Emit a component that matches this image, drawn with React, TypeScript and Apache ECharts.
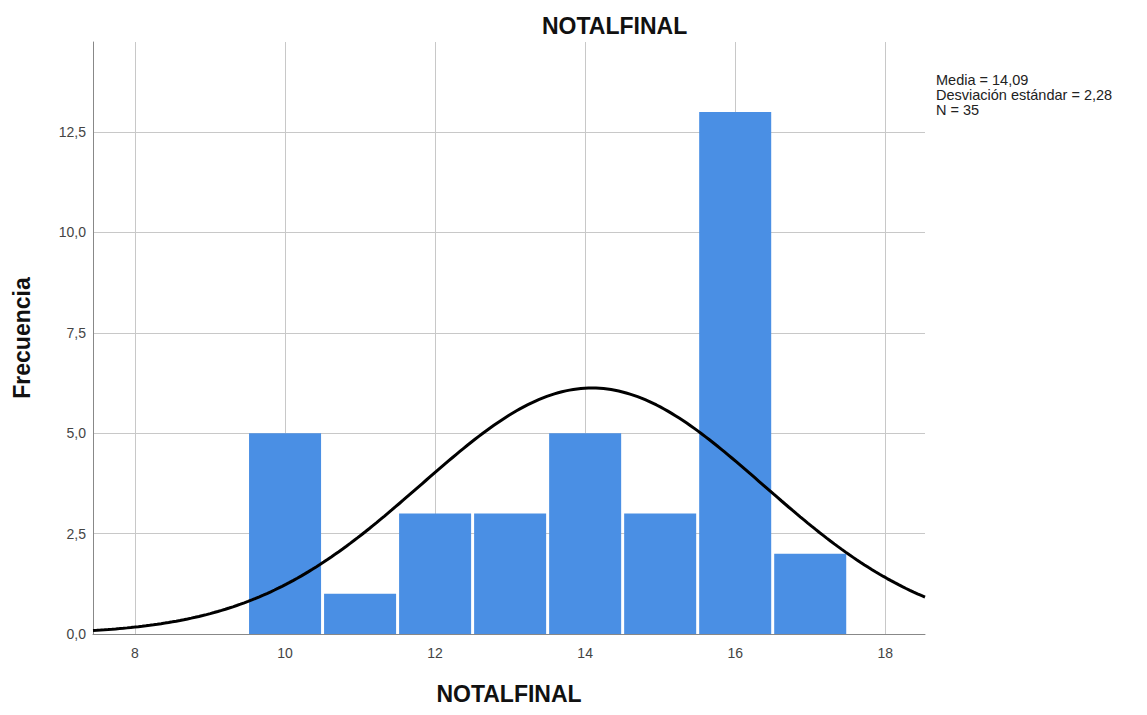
import React, { useEffect, useRef } from "react";
import * as echarts from "echarts";

// Histogram bins (bin centre, frequency)
const binCenters = [10, 11, 12, 13, 14, 15, 16, 17];
const frequencies = [5, 1, 3, 3, 5, 3, 13, 2];
const binWidth = 1;

// Summary statistics shown on the chart
const meanValue = 14.09;
const stdDev = 2.28;
const nCount = 35;

// Axis ticks
const xTicks = [8, 10, 12, 14, 16, 18];
const yTicks = [0, 2.5, 5, 7.5, 10, 12.5];
const xMin = 7.44;
const xMax = 18.53;
const yMax = 14.74;

const statsLines = [
  "Media = 14,09",
  "Desviación estándar = 2,28",
  "N = 35",
];

export default function App() {
  const ref = useRef<HTMLDivElement>(null);
  useEffect(() => {
    if (!ref.current) return;
    const chart = echarts.init(ref.current, null, { renderer: "svg" });

    // Fitted normal curve from the chart's mean, SD and N
    const curve: number[][] = [];
    const steps = 220;
    for (let i = 0; i <= steps; i++) {
      const x = xMin + ((xMax - xMin) * i) / steps;
      const z = (x - meanValue) / stdDev;
      const y =
        (nCount * binWidth * Math.exp(-0.5 * z * z)) /
        (stdDev * Math.sqrt(2 * Math.PI));
      curve.push([x, y]);
    }

    const barData = binCenters.map((c, i) => [c, frequencies[i]]);
    const fmt = (v: number) => v.toFixed(1).replace(".", ",");

    chart.setOption({
      animation: false,
      backgroundColor: "#ffffff",
      title: {
        text: "NOTALFINAL",
        left: 537,
        top: 9,
        textStyle: {
          fontFamily: "Liberation Sans",
          fontWeight: "bold",
          fontSize: 23,
          color: "#111",
        },
      },
      grid: { left: 93, right: 222, top: 42, bottom: 81, containLabel: false },
      xAxis: {
        type: "value",
        min: xMin,
        max: xMax,
        name: "NOTALFINAL",
        nameLocation: "middle",
        nameGap: 48,
        nameTextStyle: {
          fontFamily: "Liberation Sans",
          fontWeight: "bold",
          fontSize: 23,
          color: "#111",
        },
        axisLine: { show: true, lineStyle: { color: "#888", width: 1 } },
        axisTick: { show: false, customValues: xTicks },
        axisLabel: {
          customValues: xTicks,
          margin: 12,
          fontFamily: "Liberation Sans",
          fontSize: 14,
          color: "#444",
          formatter: (v: number) => String(v),
        },
        splitLine: { show: true, lineStyle: { color: "#c8c8c8", width: 1 } },
      },
      yAxis: {
        type: "value",
        min: 0,
        max: yMax,
        name: "Frecuencia",
        nameLocation: "middle",
        nameGap: 60,
        nameTextStyle: {
          fontFamily: "Liberation Sans",
          fontWeight: "bold",
          fontSize: 23,
          color: "#111",
        },
        axisLine: { show: true, lineStyle: { color: "#888", width: 1 } },
        axisTick: { show: false, customValues: yTicks },
        axisLabel: {
          customValues: yTicks,
          margin: 7,
          fontFamily: "Liberation Sans",
          fontSize: 14,
          color: "#444",
          formatter: (v: number) => fmt(v),
        },
        splitLine: { show: true, lineStyle: { color: "#c8c8c8", width: 1 } },
      },
      graphic: [
        {
          type: "text",
          left: 936,
          top: 72,
          style: {
            text: statsLines.join("\n"),
            font: "14.5px 'Liberation Sans'",
            lineHeight: 15,
            fill: "#222",
          },
        },
      ],
      series: [
        {
          type: "custom",
          data: barData,
          z: 2,
          clip: true,
          renderItem: (params: any, api: any) => {
            const c = api.value(0);
            const h = api.value(1);
            const p0 = api.coord([c - binWidth / 2, h]);
            const p1 = api.coord([c + binWidth / 2, 0]);
            return {
              type: "rect",
              shape: {
                x: p0[0] + 1.5,
                y: p0[1],
                width: p1[0] - p0[0] - 3,
                height: p1[1] - p0[1],
              },
              style: { fill: "#4a8fe4" },
            };
          },
        },
        {
          type: "line",
          data: curve,
          showSymbol: false,
          symbol: "none",
          z: 5,
          lineStyle: { color: "#000", width: 3 },
          silent: true,
        },
      ],
    });
    return () => chart.dispose();
  }, []);
  return (
    <div
      ref={ref}
      style={{ position: "fixed", left: 0, top: 0, width: 1147, height: 715 }}
    />
  );
}
